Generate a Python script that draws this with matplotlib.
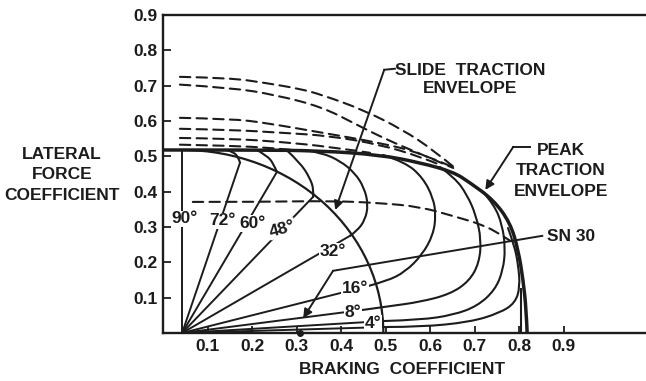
import matplotlib
matplotlib.use('Agg')
import matplotlib.pyplot as plt
from matplotlib.patches import Arc, PathPatch
from matplotlib.path import Path

plt.rcParams['font.family'] = ['Liberation Sans', 'DejaVu Sans']
plt.rcParams['font.weight'] = 'bold'
INK = '#1c1c1c'

# fan origin and the slide traction envelope (quarter ellipse)
origin_x, origin_y = 0.043, 0.0
slide_half_w, slide_half_h = 0.452, 0.518

# peak traction envelope
peak_x = [0.0, 0.196, 0.353, 0.488, 0.578, 0.652, 0.690, 0.742, 0.780, 0.798, 0.809, 0.816, 0.818]
peak_y = [0.518, 0.518, 0.516, 0.504, 0.482, 0.456, 0.425, 0.377, 0.312, 0.235, 0.150, 0.065, 0.0]

# constant slip-angle curves, last point = locked wheel
a72_x = [0.142, 0.157, 0.169, 0.173]
a72_y = [0.518, 0.513, 0.499, 0.482]
a60_x = [0.211, 0.234, 0.247, 0.256]
a60_y = [0.518, 0.501, 0.482, 0.456]
a48_x = [0.279, 0.308, 0.330, 0.339, 0.337]
a48_y = [0.516, 0.482, 0.439, 0.405, 0.385]
a32_x = [0.319, 0.357, 0.398, 0.431, 0.452, 0.461, 0.454, 0.436, 0.420]
a32_y = [0.518, 0.510, 0.487, 0.453, 0.411, 0.363, 0.320, 0.289, 0.275]
a16_x = [0.494, 0.544, 0.584, 0.607, 0.613, 0.607, 0.582, 0.544, 0.503, 0.461]
a16_y = [0.504, 0.484, 0.439, 0.382, 0.334, 0.278, 0.221, 0.173, 0.147, 0.133]
a8_x = [0.622, 0.656, 0.683, 0.703, 0.715, 0.710, 0.688, 0.645, 0.578, 0.510, 0.447]
a8_y = [0.470, 0.439, 0.391, 0.334, 0.263, 0.198, 0.147, 0.110, 0.088, 0.076, 0.065]
a4_x = [0.719, 0.744, 0.762, 0.769, 0.764, 0.746, 0.706, 0.652, 0.578, 0.499]
a4_y = [0.399, 0.363, 0.306, 0.241, 0.178, 0.122, 0.076, 0.051, 0.037, 0.034]
a2_x = [0.775, 0.789, 0.798, 0.802, 0.791, 0.757, 0.690, 0.578, 0.503]
a2_y = [0.297, 0.249, 0.193, 0.130, 0.085, 0.057, 0.031, 0.017, 0.017]
a0_x = [0.804, 0.804]
a0_y = [0.0, 0.125]

# dashed envelopes
d1_x = [0.038, 0.151, 0.229, 0.308, 0.357, 0.449, 0.539, 0.607, 0.656]
d1_y = [0.725, 0.722, 0.708, 0.691, 0.674, 0.632, 0.575, 0.518, 0.467]
d2_x = [0.038, 0.155, 0.252, 0.357, 0.436, 0.503, 0.578, 0.652]
d2_y = [0.703, 0.694, 0.674, 0.640, 0.589, 0.547, 0.507, 0.467]
d3_x = [0.038, 0.155, 0.229, 0.357, 0.488, 0.578, 0.656]
d3_y = [0.609, 0.606, 0.595, 0.567, 0.538, 0.510, 0.467]
d4_x = [0.038, 0.155, 0.263, 0.375, 0.488, 0.578, 0.622]
d4_y = [0.578, 0.575, 0.567, 0.558, 0.533, 0.499, 0.476]
d5_x = [0.038, 0.155, 0.263, 0.375, 0.465]
d5_y = [0.552, 0.550, 0.541, 0.527, 0.510]
d6_x = [0.038, 0.155, 0.240, 0.292]
d6_y = [0.533, 0.530, 0.524, 0.518]
d7_x = [0.067, 0.218, 0.375, 0.488, 0.578, 0.652, 0.719, 0.757, 0.780]
d7_y = [0.371, 0.371, 0.374, 0.368, 0.357, 0.331, 0.306, 0.280, 0.261]

angle_labels = ['90°', '72°', '60°', '48°', '32°', '16°', '8°', '4°']
label_x = [0.049, 0.133, 0.200, 0.267, 0.382, 0.431, 0.427, 0.472]
label_y = [0.323, 0.317, 0.310, 0.295, 0.232, 0.125, 0.057, 0.028]
label_rot = [0, 0, 0, 15, 0, 0, 0, 0]

ticks = [0.1, 0.2, 0.3, 0.4, 0.5, 0.6, 0.7, 0.8, 0.9]
FS = 12.5


def smooth_path(xs, ys):
    """Quadratic B-spline path through the traced points (points act as control points)."""
    pts = list(zip(xs, ys))
    if len(pts) < 3:
        return Path(pts)
    verts = [pts[0]]
    codes = [Path.MOVETO]
    for i in range(1, len(pts) - 1):
        end = pts[-1] if i == len(pts) - 2 else ((pts[i][0] + pts[i + 1][0]) / 2,
                                                 (pts[i][1] + pts[i + 1][1]) / 2)
        verts += [pts[i], end]
        codes += [Path.CURVE3, Path.CURVE3]
    return Path(verts, codes)


def draw_curve(ax, xs, ys, **kw):
    ax.add_patch(PathPatch(smooth_path(xs, ys), fill=False, capstyle='round', **kw))


fig = plt.figure(figsize=(6.46, 3.81), dpi=100)
ax = fig.add_axes([0.2523, 0.126, 0.7477, 0.8346])
ax.set_xlim(0, 1.085)
ax.set_ylim(0, 0.9)

for s in ['left', 'top', 'bottom']:
    ax.spines[s].set_linewidth(1.7)
    ax.spines[s].set_color(INK)
ax.spines['right'].set_visible(False)

ax.set_xticks(ticks)
ax.set_yticks(ticks)
ax.set_xticklabels([f'{t:.1f}' for t in ticks])
ax.set_yticklabels([f'{t:.1f}' for t in ticks])
ax.tick_params(direction='in', length=6, width=1.3, colors=INK, labelsize=FS, pad=4)
ax.tick_params(axis='x', length=5)

# dashed envelopes
for xs, ys in [(d1_x, d1_y), (d2_x, d2_y), (d3_x, d3_y), (d4_x, d4_y),
               (d5_x, d5_y), (d6_x, d6_y), (d7_x, d7_y)]:
    draw_curve(ax, xs, ys, edgecolor=INK, lw=1.5, linestyle=(0, (5, 3)))

# slide traction envelope
ax.add_patch(Arc((origin_x, origin_y), 2 * slide_half_w, 2 * slide_half_h,
                 theta1=0, theta2=90, color=INK, lw=1.6))

# slip-angle curves and their rays
curves = [(a72_x, a72_y), (a60_x, a60_y), (a48_x, a48_y), (a32_x, a32_y),
          (a16_x, a16_y), (a8_x, a8_y), (a4_x, a4_y), (a2_x, a2_y)]
ax.plot([origin_x, origin_x], [origin_y, slide_half_h], color=INK, lw=1.4)
for xs, ys in curves:
    draw_curve(ax, xs, ys, edgecolor=INK, lw=1.5)
    ax.plot([origin_x, xs[-1]], [origin_y, ys[-1]], color=INK, lw=1.4)
ax.plot(a0_x, a0_y, color=INK, lw=1.5)

# peak traction envelope
draw_curve(ax, peak_x, peak_y, edgecolor=INK, lw=2.5)

for txt, x, y, r in zip(angle_labels, label_x, label_y, label_rot):
    ax.text(x, y, txt, ha='center', va='center', fontsize=FS, color=INK, rotation=r,
            bbox=dict(fc='white', ec='none', pad=0.6), zorder=5)

arrow = dict(arrowstyle='-|>', color=INK, lw=1.4, mutation_scale=13, shrinkA=0, shrinkB=0)

# slide envelope callout
ax.text(0.690, 0.718, 'SLIDE  TRACTION\nENVELOPE', ha='center', va='center',
        fontsize=FS, color=INK, linespacing=1.25)
ax.plot([0.521, 0.497], [0.748, 0.745], color=INK, lw=1.4)
ax.annotate('', xy=(0.387, 0.348), xytext=(0.497, 0.745), arrowprops=arrow)

# peak envelope callout
ax.text(0.894, 0.459, 'PEAK\nTRACTION\nENVELOPE', ha='center', va='center',
        fontsize=FS, color=INK, linespacing=1.45)
ax.plot([0.825, 0.787], [0.527, 0.527], color=INK, lw=1.4)
ax.annotate('', xy=(0.724, 0.405), xytext=(0.787, 0.527), arrowprops=arrow)

# SN 30 callout
ax.text(0.863, 0.272, 'SN 30', ha='left', va='center', fontsize=FS, color=INK)
ax.plot([0.852, 0.382], [0.275, 0.176], color=INK, lw=1.4)
ax.annotate('', xy=(0.315, 0.042), xytext=(0.382, 0.176), arrowprops=arrow)
ax.plot([0.308], [0.0], 'o', color=INK, ms=4, clip_on=False, zorder=6)

fig.text(0.096, 0.541, 'LATERAL\nFORCE\nCOEFFICIENT', ha='center', va='center',
         fontsize=FS, color=INK, linespacing=1.45)
fig.text(0.622, 0.029, 'BRAKING  COEFFICIENT', ha='center', va='center',
         fontsize=FS, color=INK)

fig.savefig('out.png', dpi=100, facecolor='white')
